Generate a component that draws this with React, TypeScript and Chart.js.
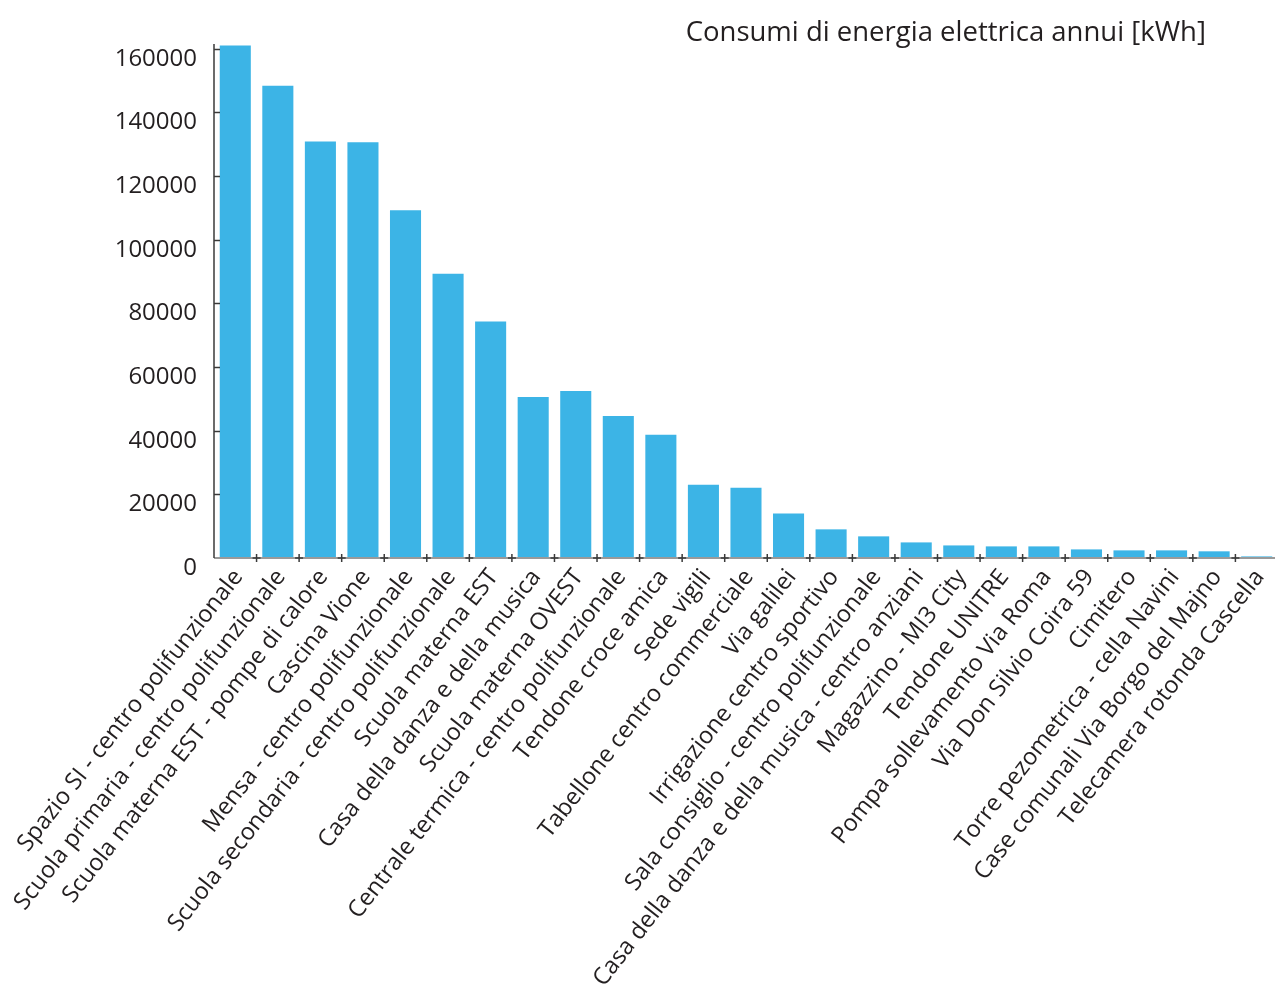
import React, { useEffect, useRef } from "react";
import { Chart, registerables } from "chart.js";

Chart.register(...registerables);

// Annual electricity consumption per municipal site [kWh]
const categories: string[] = [
  "Spazio SI - centro polifunzionale",
  "Scuola primaria - centro polifunzionale",
  "Scuola materna EST - pompe di calore",
  "Cascina Vione",
  "Mensa - centro polifunzionale",
  "Scuola secondaria - centro polifunzionale",
  "Scuola materna EST",
  "Casa della danza e della musica",
  "Scuola materna OVEST",
  "Centrale termica - centro polifunzionale",
  "Tendone croce amica",
  "Sede vigili",
  "Tabellone centro commerciale",
  "Via galilei",
  "Irrigazione centro sportivo",
  "Sala consiglio - centro polifunzionale",
  "Casa della danza e della musica - centro anziani",
  "Magazzino - MI3 City",
  "Tendone UNITRE",
  "Pompa sollevamento Via Roma",
  "Via Don Silvio Coira 59",
  "Cimitero",
  "Torre pezometrica - cella Navini",
  "Case comunali Via Borgo del Majno",
  "Telecamera rotonda Cascella",
];

const consumption: number[] = [
  161000, 148400, 130900, 130600, 109300, 89300, 74300, 50600, 52500, 44600,
  38700, 23000, 22100, 14000, 9000, 6800, 4900, 3950, 3650, 3650, 2700, 2400,
  2400, 2100, 500,
];

const yTickValues: number[] = [0, 20000, 40000, 60000, 80000, 100000, 120000, 140000, 160000];

const chartTitle = "Consumi di energia elettrica annui [kWh]";

const FONT = "'Open Sans', sans-serif";
const BAR_COLOR = "#3cb4e6";
const TEXT_COLOR = "#231f20";

// Axis lines, inward y ticks, "+" marks between categories and the title
const axisDecor = {
  id: "axisDecor",
  afterDatasetsDraw(chart: any) {
    const { ctx, chartArea, scales } = chart;
    const xs = scales.x;
    const ys = scales.y;
    const y0 = ys.getPixelForValue(0);
    ctx.save();

    // x axis baseline
    ctx.strokeStyle = "#9a9a9a";
    ctx.lineWidth = 2;
    ctx.beginPath();
    ctx.moveTo(chartArea.left, y0);
    ctx.lineTo(chartArea.right, y0);
    ctx.stroke();

    // y axis line
    ctx.strokeStyle = "#3a3a3a";
    ctx.lineWidth = 1.5;
    ctx.beginPath();
    ctx.moveTo(chartArea.left, chartArea.top);
    ctx.lineTo(chartArea.left, y0);
    ctx.stroke();

    // inward y ticks
    for (const v of yTickValues) {
      if (v === 0) continue;
      const py = Math.round(ys.getPixelForValue(v)) + 0.5;
      ctx.beginPath();
      ctx.moveTo(chartArea.left, py);
      ctx.lineTo(chartArea.left + 6, py);
      ctx.stroke();
    }

    // category boundary marks
    ctx.strokeStyle = "#3a3a3a";
    ctx.lineWidth = 1.5;
    for (let i = 1; i < categories.length; i++) {
      const px = (xs.getPixelForValue(i - 1) + xs.getPixelForValue(i)) / 2;
      ctx.beginPath();
      ctx.moveTo(px, y0 - 4);
      ctx.lineTo(px, y0 + 4);
      ctx.stroke();
      ctx.beginPath();
      ctx.moveTo(px - 4, y0);
      ctx.lineTo(px + 4, y0);
      ctx.stroke();
    }

    // title
    ctx.fillStyle = TEXT_COLOR;
    ctx.font = `27.5px ${FONT}`;
    ctx.textAlign = "right";
    ctx.textBaseline = "alphabetic";
    ctx.fillText(chartTitle, chartArea.right - 72, 41);

    ctx.restore();
  },
};

export default function App() {
  const canvasRef = useRef<HTMLCanvasElement | null>(null);

  useEffect(() => {
    const canvas = canvasRef.current;
    if (!canvas) return;
    const chart = new Chart(canvas, {
      type: "bar",
      data: {
        labels: categories,
        datasets: [
          {
            data: consumption,
            backgroundColor: BAR_COLOR,
            borderWidth: 0,
            barPercentage: 0.73,
            categoryPercentage: 1,
          },
        ],
      },
      options: {
        responsive: false,
        animation: false,
        devicePixelRatio: 1,
        layout: { padding: { top: 44, right: 0, left: 0, bottom: 0 } },
        plugins: {
          legend: { display: false },
          title: { display: false },
          tooltip: { enabled: false },
        },
        scales: {
          x: {
            offset: true,
            border: { display: false },
            grid: { display: false, drawTicks: false },
            ticks: {
              autoSkip: false,
              minRotation: 52,
              maxRotation: 52,
              padding: 6,
              labelOffset: 3,
              color: TEXT_COLOR,
              font: { family: FONT, size: 23.6 },
            },
            afterFit(scale: any) {
              scale.height = 436;
            },
          },
          y: {
            min: 0,
            max: 161500,
            border: { display: false },
            grid: { display: false, drawTicks: false },
            afterBuildTicks(scale: any) {
              scale.ticks = yTickValues.map((v) => ({ value: v }));
            },
            ticks: {
              padding: 17,
              labelOffset: 10,
              color: TEXT_COLOR,
              font: { family: FONT, size: 24 },
              callback: (v: any) => String(v),
            },
            afterFit(scale: any) {
              scale.width = 214;
            },
          },
        },
      },
      plugins: [axisDecor],
    });
    return () => chart.destroy();
  }, []);

  return (
    <div
      style={{
        position: "absolute",
        left: 0,
        top: 0,
        width: 1275,
        height: 994,
        overflow: "hidden",
        background: "#ffffff",
      }}
    >
      <canvas ref={canvasRef} width={1285} height={994} style={{ display: "block" }} />
    </div>
  );
}
